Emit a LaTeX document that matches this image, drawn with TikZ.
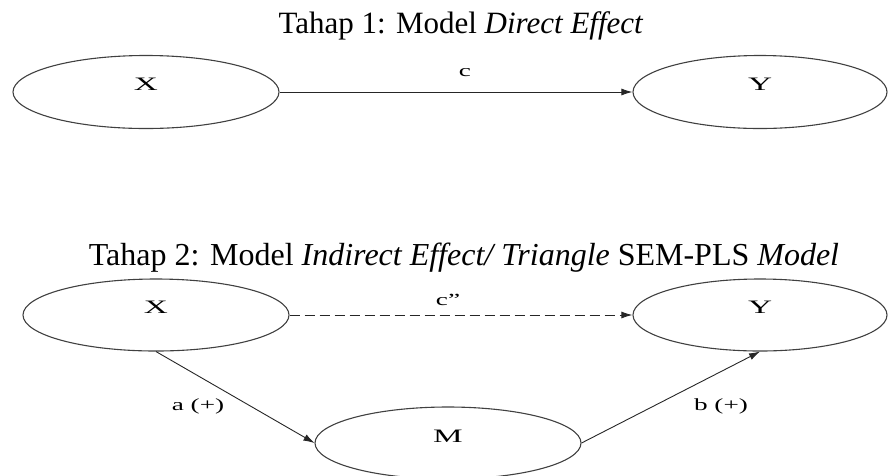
\documentclass[tikz,border=0pt]{standalone}
\usepackage{fontspec}
\setmainfont{Liberation Serif}
\usetikzlibrary{shapes.geometric,arrows.meta}
\begin{document}
\begin{tikzpicture}[x=1pt,y=-1pt,
  ell/.style={ellipse,draw=black!75,line width=1.1pt,inner sep=0pt,minimum height=73pt},
  lab/.style={inner sep=0pt,font=\fontsize{19}{21}\selectfont},
  elab/.style={inner sep=0pt,font=\fontsize{17}{20}\selectfont},
  title/.style={inner sep=0pt,anchor=base,font=\fontsize{31}{37}\selectfont},
  conn/.style={draw=black!85,line width=0.9pt,-{Latex[length=11pt,width=7pt]}}]
\useasboundingbox (0,0) rectangle (888,475);
% titles
\node[title] (t1) at (461,33) {Tahap 1: Model \textit{Direct Effect}};
\node[title,font=\fontsize{32}{38}\selectfont] (t2) at (464,265) {Tahap 2: Model \textit{Indirect Effect/ Triangle} SEM-PLS \textit{Model}};
% stage 1
\node[ell,minimum width=266pt] (X1) at (146,92) {};
\node[ell,minimum width=254pt] (Y1) at (760,92) {};
\node[lab] (lx1) at ([yshift=8pt]X1.center) {\scalebox{1.75}[1]{X}};
\node[lab] (ly1) at ([yshift=8pt]Y1.center) {\scalebox{1.75}[1]{Y}};
\draw[conn] (X1.east) -- (Y1.west);
\node[elab] (lc) at (465,73) {\scalebox{1.6}[1]{c}};
% stage 2
\node[ell,minimum width=266pt,minimum height=72pt] (X2) at (156,315) {};
\node[ell,minimum width=254pt,minimum height=72pt] (Y2) at (760,315) {};
\node[ell,minimum width=266pt,minimum height=72pt] (M) at (448,443) {};
\node[lab] (lx2) at ([yshift=8pt]X2.center) {\scalebox{1.75}[1]{X}};
\node[lab] (ly2) at ([yshift=8pt]Y2.center) {\scalebox{1.75}[1]{Y}};
\node[lab] (lm) at ([yshift=7pt]M.center) {\scalebox{1.75}[1]{M}};
\draw[conn,dash pattern=on 10pt off 5pt] (X2.east) -- (Y2.west);
\node[elab] (lc2) at (448,300) {\scalebox{1.6}[1]{c”}};
\draw[conn] (X2.south) -- (M.west);
\node[elab] (la) at (198,406) {\scalebox{1.6}[1]{a (+)}};
\draw[conn] (M.east) -- (Y2.south);
\node[elab] (lb) at (721,406) {\scalebox{1.6}[1]{b (+)}};
\end{tikzpicture}
\end{document}
